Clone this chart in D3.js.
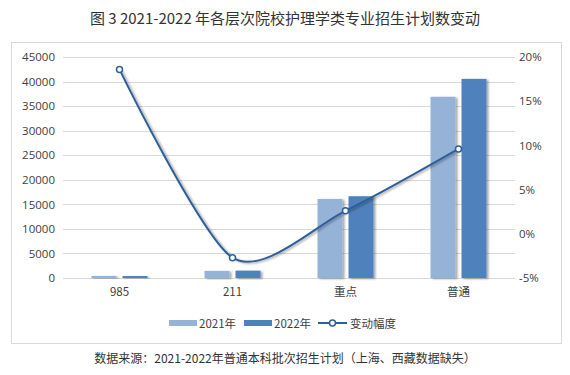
<!DOCTYPE html>
<html>
<head>
<meta charset="utf-8">
<script src="https://cdn.jsdelivr.net/npm/d3@7"></script>
<style>
  body { margin: 0; background: #fff; }
  text { font-family: "Noto Sans CJK SC", "Noto Sans", sans-serif; }
</style>
</head>
<body>
<script>
// chart data
var categories = ["985", "211", "重点", "普通"];
var plan2021 = [420, 1450, 16100, 36900];
var plan2022 = [400, 1500, 16650, 40550];
var changeRate = [18.6, -2.7, 2.6, 9.6];
var leftTicks = [0, 5000, 10000, 15000, 20000, 25000, 30000, 35000, 40000, 45000];
var rightTicks = [-5, 0, 5, 10, 15, 20];
var seriesNames = ["2021年", "2022年", "变动幅度"];

var W = 570, H = 375;
var svg = d3.select("body").append("svg")
    .attr("width", W)
    .attr("height", H);

var defs = svg.append("defs");
var f = defs.append("filter").attr("id", "shadow")
    .attr("x", "-20%").attr("y", "-10%").attr("width", "160%").attr("height", "130%");
f.append("feDropShadow")
    .attr("dx", 2).attr("dy", 1).attr("stdDeviation", 1.2)
    .attr("flood-color", "#000").attr("flood-opacity", 0.35);

// outer frame
svg.append("rect")
    .attr("x", 11.5).attr("y", 42.5)
    .attr("width", 550).attr("height", 301)
    .attr("fill", "#fff").attr("stroke", "#d9d9d9");

// title
svg.append("text")
    .attr("x", 285).attr("y", 24)
    .attr("text-anchor", "middle")
    .attr("font-size", 15)
    .attr("fill", "#333")
    .text("图 3 2021-2022 年各层次院校护理学类专业招生计划数变动");

var plotL = 63, plotR = 515, plotT = 57, plotB = 278;

var x = d3.scaleBand().domain(categories).range([plotL, plotR]);
var yL = d3.scaleLinear().domain([0, 45000]).range([plotB, plotT]);
var yR = d3.scaleLinear().domain([-5, 20]).range([plotB, plotT]);

// gridlines
svg.append("g").selectAll("line")
    .data(leftTicks)
    .join("line")
    .attr("x1", plotL).attr("x2", plotR)
    .attr("y1", function (d) { return Math.round(yL(d)) + 0.5; })
    .attr("y2", function (d) { return Math.round(yL(d)) + 0.5; })
    .attr("stroke", "#d9d9d9");

// left axis
var axL = svg.append("g")
    .attr("transform", "translate(" + plotL + ",0)")
    .call(d3.axisLeft(yL).tickValues(leftTicks).tickSize(0).tickPadding(8)
        .tickFormat(d3.format("d")));
axL.select(".domain").remove();
axL.selectAll("text").attr("font-size", 11.5).attr("fill", "#404040")
    .style("font-family", "'Open Sans', 'Noto Sans', sans-serif");

// right axis
var axR = svg.append("g")
    .attr("transform", "translate(" + plotR + ",0)")
    .call(d3.axisRight(yR).tickValues(rightTicks).tickSize(0).tickPadding(4)
        .tickFormat(function (d) { return d + "%"; }));
axR.select(".domain").remove();
axR.selectAll("text").attr("font-size", 11.5).attr("fill", "#404040")
    .style("font-family", "'Open Sans', 'Noto Sans', sans-serif");

// bottom axis labels
var axB = svg.append("g")
    .attr("transform", "translate(0," + plotB + ")")
    .call(d3.axisBottom(x).tickSize(0).tickPadding(10));
axB.select(".domain").remove();
axB.selectAll("text").attr("font-size", 11.5).attr("fill", "#404040");

// bars
var barW = 25, gap = 6;
var colors = ["#95b3d7", "#4f81bd"];
[plan2021, plan2022].forEach(function (vals, i) {
    svg.append("g").selectAll("rect")
        .data(vals)
        .join("rect")
        .attr("x", function (d, j) {
            var c = x(categories[j]) + x.bandwidth() / 2;
            return i === 0 ? c - gap / 2 - barW : c + gap / 2;
        })
        .attr("y", function (d) { return yL(d); })
        .attr("width", barW)
        .attr("height", function (d) { return plotB - yL(d); })
        .attr("fill", colors[i])
        .attr("filter", "url(#shadow)");
});

// change-rate line
var pts = changeRate.map(function (d, j) {
    return [x(categories[j]) + x.bandwidth() / 2, yR(d)];
});
var line = d3.line().curve(d3.curveCardinal.tension(0.2));
svg.append("path")
    .attr("d", line(pts))
    .attr("fill", "none")
    .attr("stroke", "#2f5f98")
    .attr("stroke-width", 2)
    .attr("filter", "url(#shadow)");
svg.append("g").selectAll("circle")
    .data(pts)
    .join("circle")
    .attr("cx", function (d) { return d[0]; })
    .attr("cy", function (d) { return d[1]; })
    .attr("r", 3)
    .attr("fill", "#fff")
    .attr("stroke", "#2f5f98")
    .attr("stroke-width", 1.5);

// legend
var lg = svg.append("g").attr("transform", "translate(0,323)");
lg.append("rect").attr("x", 169).attr("y", -3).attr("width", 28).attr("height", 6).attr("fill", colors[0]);
lg.append("text").attr("x", 199).attr("y", 4.5).attr("font-size", 11.5).attr("fill", "#404040").text(seriesNames[0]);
lg.append("rect").attr("x", 244).attr("y", -3).attr("width", 28).attr("height", 6).attr("fill", colors[1]);
lg.append("text").attr("x", 274).attr("y", 4.5).attr("font-size", 11.5).attr("fill", "#404040").text(seriesNames[1]);
lg.append("line").attr("x1", 318).attr("x2", 347).attr("y1", 0).attr("y2", 0)
    .attr("stroke", "#2f5f98").attr("stroke-width", 2);
lg.append("circle").attr("cx", 332.5).attr("cy", 0).attr("r", 3)
    .attr("fill", "#fff").attr("stroke", "#2f5f98").attr("stroke-width", 1.5);
lg.append("text").attr("x", 350).attr("y", 4.5).attr("font-size", 11.5).attr("fill", "#404040").text(seriesNames[2]);

// source note
svg.append("text")
    .attr("x", 285).attr("y", 363)
    .attr("text-anchor", "middle")
    .attr("font-size", 12)
    .attr("fill", "#333")
    .text("数据来源：2021-2022年普通本科批次招生计划（上海、西藏数据缺失）");
</script>
</body>
</html>
